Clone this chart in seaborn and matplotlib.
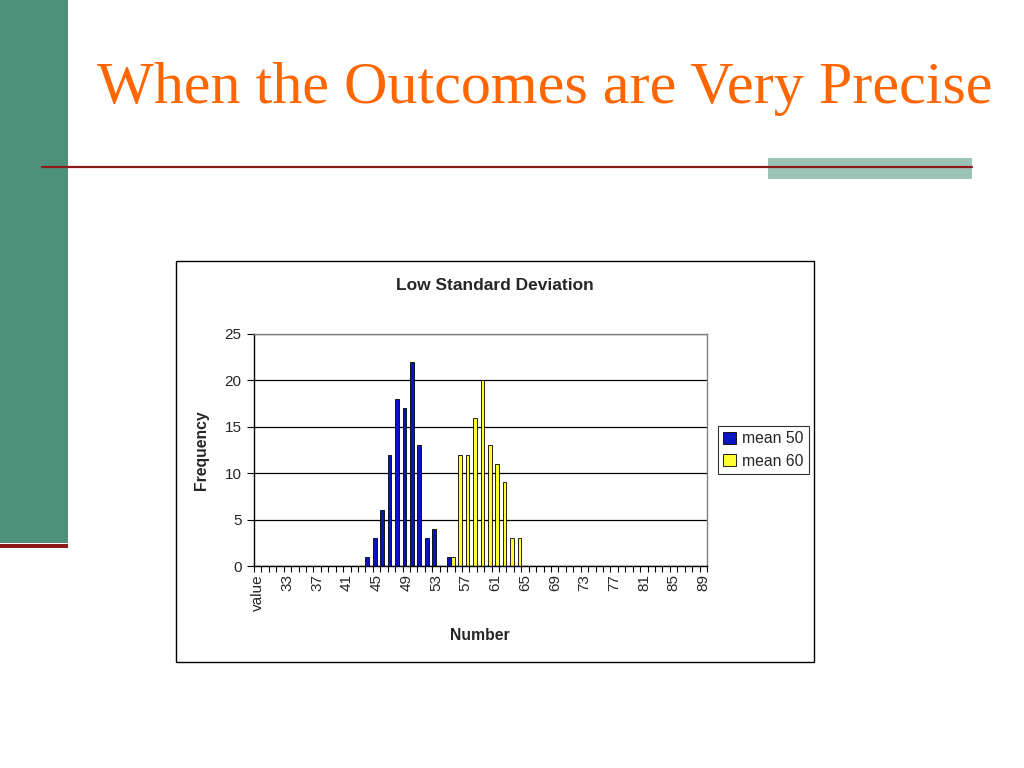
import matplotlib
matplotlib.use('Agg')
import pandas as pd
import seaborn as sns
import matplotlib.pyplot as plt
from matplotlib.patches import Rectangle
from matplotlib.lines import Line2D
from matplotlib.ticker import FixedLocator

# x categories of the chart: a 'value' header cell followed by 30..89
categories = ['value'] + [str(n) for n in range(30, 90)]

# frequencies (every other category is 0)
mean50_values = [44, 45, 46, 47, 48, 49, 50, 51, 52, 53, 54, 55]
mean50_counts = [1, 3, 6, 12, 18, 17, 22, 13, 3, 4, 0, 1]
mean60_values = [55, 56, 57, 58, 59, 60, 61, 62, 63, 64]
mean60_counts = [1, 12, 12, 16, 20, 13, 11, 9, 3, 3]

series_names = ['mean 50', 'mean 60']
series_colors = ['#0A14C0', '#FFFF33']

y_ticks = [0, 5, 10, 15, 20, 25]

W, H = 1024, 768


def fx(x):
    return x / W


def fy(y):
    return 1 - y / H


def build_frame():
    c50 = dict(zip(mean50_values, mean50_counts))
    c60 = dict(zip(mean60_values, mean60_counts))
    rows = []
    for cat in categories:
        n = int(cat) if cat.isdigit() else None
        rows.append((cat, series_names[0], c50.get(n, 0)))
        rows.append((cat, series_names[1], c60.get(n, 0)))
    return pd.DataFrame(rows, columns=['number', 'series', 'frequency'])


df = build_frame()

sns.set_style('white')
plt.rcParams['font.family'] = ['Liberation Sans', 'DejaVu Sans']

fig = plt.figure(figsize=(10.24, 7.68), dpi=100)
fig.patch.set_facecolor('white')

# slide decoration
fig.patches.append(Rectangle((0, fy(543)), fx(68), 543 / H, transform=fig.transFigure,
                             facecolor='#4E917A', edgecolor='none', zorder=0))
fig.patches.append(Rectangle((0, fy(548)), fx(68), 4 / H, transform=fig.transFigure,
                             facecolor='#8B1A1A', edgecolor='none', zorder=1))
fig.patches.append(Rectangle((fx(768), fy(179)), fx(972 - 768), 21 / H, transform=fig.transFigure,
                             facecolor='#9CC3B5', edgecolor='none', zorder=1))
fig.lines.append(Line2D([fx(42), fx(972)], [fy(167), fy(167)], transform=fig.transFigure,
                        color='#8B1A1A', linewidth=1.6, zorder=2))
fig.text(fx(545), fy(103), 'When the Outcomes are Very Precise', ha='center', va='baseline',
         fontsize=43.3, color='#FF6600', family=['Liberation Serif', 'DejaVu Serif'])

# chart area box
fig.patches.append(Rectangle((fx(176), fy(662)), fx(814 - 176), (662 - 261) / H,
                             transform=fig.transFigure, facecolor='white',
                             edgecolor='black', linewidth=1.0, zorder=1))
fig.text(fx(495), fy(286), 'Low Standard Deviation', ha='center', va='center',
         fontsize=12.5, fontweight='bold')

ax = fig.add_axes([fx(254), fy(566), fx(707 - 254), (566 - 334) / H])
ax.set_zorder(3)

sns.barplot(data=df, x='number', y='frequency', hue='series', order=categories,
            hue_order=series_names, palette=series_colors, saturation=1,
            width=1.0, edgecolor='black', linewidth=0.6, errorbar=None, ax=ax)

ax.set_xlim(-0.5, len(categories) - 0.5)
ax.set_ylim(0, 25)
ax.set_yticks(y_ticks)
ax.yaxis.grid(True, color='black', linewidth=0.9)
ax.set_axisbelow(True)

label_pos = list(range(0, len(categories), 4))
ax.set_xticks(label_pos)
ax.set_xticklabels([categories[i] for i in label_pos], rotation=90, fontsize=11)
ax.xaxis.set_minor_locator(FixedLocator([i - 0.5 for i in range(len(categories) + 1)]))
ax.tick_params(axis='x', which='major', length=0, pad=6)
ax.tick_params(axis='x', which='minor', length=4, width=0.8, direction='out', color='black', bottom=True)
ax.tick_params(axis='y', length=5, width=0.8, direction='out', color='black', left=True,
               labelsize=11, pad=4)

for side in ['top', 'right']:
    ax.spines[side].set_color('#808080')
    ax.spines[side].set_linewidth(1.0)
for side in ['left', 'bottom']:
    ax.spines[side].set_color('black')
    ax.spines[side].set_linewidth(1.0)

ax.set_xlabel('')
ax.set_ylabel('')
fig.text(fx(480), fy(635), 'Number', ha='center', va='center', fontsize=11.3, fontweight='bold')
fig.text(fx(201), fy(450), 'Frequency', ha='center', va='center', fontsize=11.3,
         fontweight='bold', rotation=90)

handles, labels = ax.get_legend_handles_labels()
ax.get_legend().remove()
leg = fig.legend(handles, labels, loc='center left', bbox_to_anchor=(fx(718), fy(450)),
                 bbox_transform=fig.transFigure, frameon=True, fancybox=False,
                 edgecolor='black', fontsize=11.3, handlelength=0.8, handleheight=0.8,
                 handletextpad=0.4, borderpad=0.35, labelspacing=0.45, borderaxespad=0)
leg.get_frame().set_linewidth(0.8)
leg.set_zorder(4)

fig.savefig('out.png', dpi=100)
